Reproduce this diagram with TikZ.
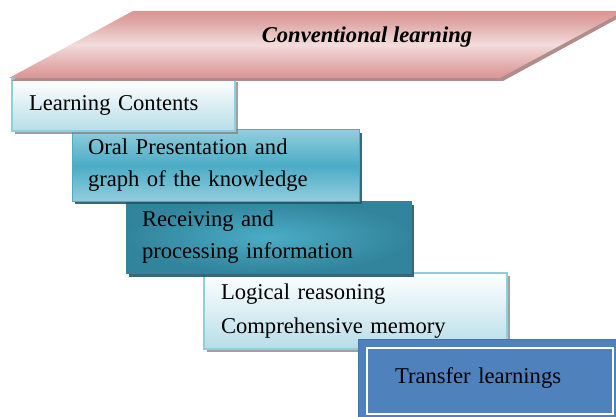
\documentclass[tikz,border=0pt]{standalone}
\usepackage{fontspec}
\setmainfont{Liberation Serif}
\usetikzlibrary{shadows}

\definecolor{rose}{HTML}{D99594}
\definecolor{rosemid}{HTML}{E0A9A8}
\definecolor{roselight}{HTML}{F2DCDB}
\definecolor{roseshadow}{HTML}{B08C8C}
\definecolor{aqua}{HTML}{92CDDC}
\definecolor{aquapale}{HTML}{B7DDE8}
\definecolor{teal1}{HTML}{4BACC6}
\definecolor{teal2}{HTML}{31849B}
\definecolor{tealdark}{HTML}{215968}
\definecolor{steel}{HTML}{4F81BD}

% vertical shadings: the path's box spans 25bp (bottom) to 75bp (top)
\pgfdeclareverticalshading{bannershade}{100bp}{%
  color(0bp)=(rose); color(25bp)=(rose); color(33bp)=(rosemid);
  color(50bp)=(roselight); color(66bp)=(rosemid); color(75bp)=(rose);
  color(100bp)=(rose)}
\pgfdeclareverticalshading{tealshade}{100bp}{%
  color(0bp)=(aqua); color(25bp)=(aqua); color(50bp)=(teal1);
  color(75bp)=(aqua); color(100bp)=(aqua)}

\tikzset{
  x=1pt, y=-1pt,
  every node/.style={font=\fontsize{22.6}{32}\selectfont, text=black},
  stage/.style={rectangle, anchor=north west, align=left, outer sep=0pt,
                inner ysep=0pt, inner xsep=16pt},
  palebox/.style={stage, draw=aqua, line width=1.2pt,
                  top color=white, bottom color=aquapale,
                  drop shadow={shadow xshift=3pt, shadow yshift=-3pt,
                               fill=gray, opacity=0.75}},
  tealbox/.style={stage, draw=teal1, line width=1pt, shading=tealshade,
                  drop shadow={shadow xshift=3pt, shadow yshift=-3pt,
                               fill=tealdark, opacity=0.9}},
  deepbox/.style={stage, draw=teal2, line width=1pt,
                  inner color=teal1, outer color=teal2,
                  drop shadow={shadow xshift=3pt, shadow yshift=-4pt,
                               fill=tealdark, opacity=0.9}},
  bluebox/.style={stage, fill=steel, draw=steel!90!black, line width=1pt},
  banner/.style={shading=bannershade},
}

\begin{document}
\begin{tikzpicture}
  \clip (0,0) rectangle (616,417);

  % lower steps first, so upper shadows fall on them
  \node[palebox, minimum width=303pt, minimum height=76pt, text width=269pt,
        inner xsep=17pt, font=\fontsize{22.6}{34}\selectfont]
        (reason) at (204,273) {Logical reasoning\\Comprehensive memory};
  \node[deepbox, minimum width=285pt, minimum height=72pt, text width=253pt]
        (receive) at (126,201) {Receiving and\\processing information};
  \node[tealbox, minimum width=287pt, minimum height=71pt, text width=255pt]
        (oral) at (72,130) {Oral Presentation and\\graph of the knowledge};
  \node[palebox, minimum width=223pt, minimum height=52pt, text width=189pt,
        inner xsep=17pt]
        (contents) at (12,79) {Learning Contents};

  % slanted banner with its shadow
  \fill[roseshadow] (135,14) -- (626,14) -- (503,81) -- (11,81) -- cycle;
  \path[banner] (133,11) -- (624,11) -- (500,78) -- (9,78) -- cycle;
  \node[font=\fontsize{22.6}{28}\selectfont\bfseries\itshape]
        (title) at (367,37) {Conventional learning};

  % final step with an inner white frame
  \node[bluebox, minimum width=264pt, minimum height=84pt, text width=190pt,
        inner xsep=37pt, text depth=11pt]
        (transfer) at (358,339) {Transfer learnings};
  \draw[white, line width=2pt]
        ([shift={(9pt,-9pt)}]transfer.north west) rectangle
        ([shift={(-9pt,9pt)}]transfer.south east);
\end{tikzpicture}
\end{document}
